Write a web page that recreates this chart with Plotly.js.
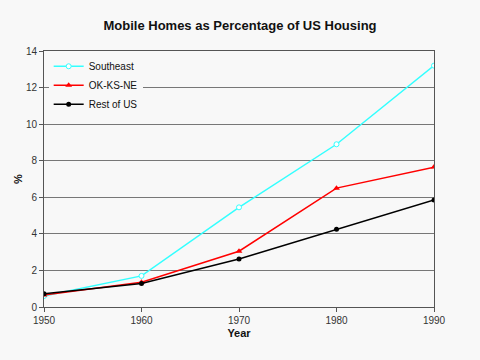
<!DOCTYPE html>
<html><head><meta charset="utf-8">
<script src="https://cdn.plot.ly/plotly-3.0.1.min.js"></script>
<style>html,body{margin:0;padding:0;background:#f8f8f8}</style>
</head><body><div id="chart" style="width:480px;height:360px"></div>
<script>
const years = [1950, 1960, 1970, 1980, 1990];
const southeast = [0.6, 1.7, 5.45, 8.9, 13.2];
const okKsNe = [0.65, 1.35, 3.05, 6.5, 7.65];
const restOfUs = [0.72, 1.28, 2.62, 4.25, 5.85];
const seriesNames = ["Southeast", "OK-KS-NE", "Rest of US"];

const traces = [
  {x: years, y: southeast, name: seriesNames[0], mode: "lines+markers",
   line: {color: "#33ffff", width: 1.5},
   marker: {symbol: "circle", size: 5, color: "#ffffff", line: {color: "#33ffff", width: 1}}},
  {x: years, y: okKsNe, name: seriesNames[1], mode: "lines+markers",
   line: {color: "#ff0000", width: 1.5},
   marker: {symbol: "triangle-up", size: 6, color: "#ff0000"}},
  {x: years, y: restOfUs, name: seriesNames[2], mode: "lines+markers",
   line: {color: "#000000", width: 1.5},
   marker: {symbol: "circle", size: 5, color: "#000000"}}
];

const layout = {
  width: 480, height: 360,
  paper_bgcolor: "#f8f8f8", plot_bgcolor: "#f8f8f8",
  margin: {l: 44, r: 46, t: 51, b: 53},
  font: {family: "Liberation Sans, Arial, sans-serif", size: 10, color: "#333"},
  title: {text: "<b>Mobile Homes as Percentage of US Housing</b>", x: 0.5, xanchor: "center", y: 0.928, yanchor: "middle",
          font: {size: 13, color: "#111"}},
  xaxis: {range: [1950, 1990], tickvals: years, ticks: "outside", ticklen: 4, tickcolor: "#555",
          showgrid: false, zeroline: false, showline: true, linecolor: "#555", mirror: true,
          title: {text: "<b>Year</b>", font: {size: 11, color: "#111"}, standoff: 4}},
  yaxis: {range: [0, 14], dtick: 2, ticks: "outside", ticklen: 4, tickcolor: "#555",
          showgrid: true, gridcolor: "#777", gridwidth: 1, zeroline: false, showline: true, linecolor: "#555", mirror: true,
          title: {text: "<b>%</b>", font: {size: 11, color: "#111"}, standoff: 1}},
  legend: {x: 0.012, y: 0.997, xanchor: "left", yanchor: "top", bgcolor: "#f8f8f8",
           font: {size: 10, color: "#111"}, tracegroupgap: 0, itemwidth: 30},
  showlegend: true
};
Plotly.newPlot("chart", traces, layout, {displayModeBar: false, staticPlot: true});
</script></body></html>
